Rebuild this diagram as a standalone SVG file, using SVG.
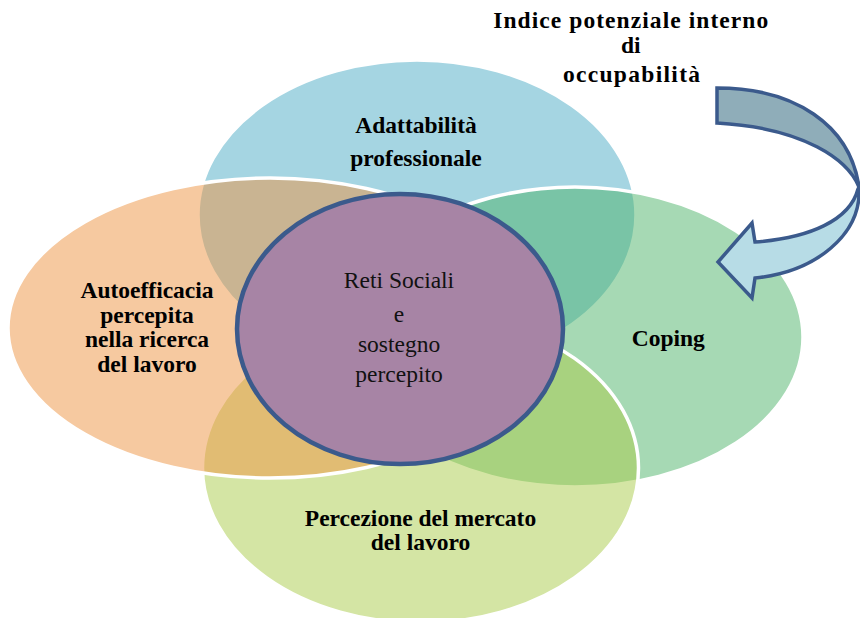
<svg xmlns="http://www.w3.org/2000/svg" width="860" height="618" viewBox="0 0 860 618">
<style>
.circ{stroke:#ffffff;stroke-width:3.5;fill-opacity:0.5}
text{font-family:'Liberation Serif','DejaVu Serif',serif;text-anchor:middle}
.lbl{font-weight:bold;font-size:23.5px;fill:#000}
.ttl{font-weight:bold;font-size:23.5px;fill:#000}
.ctr{font-weight:normal;font-size:23.5px;fill:#111}
.arr{stroke:#3B5A8C;stroke-width:3.5;stroke-linejoin:miter}
</style>
<rect width="860" height="618" fill="#ffffff"/>
<g id="adattabilita">
<ellipse class="circ" cx="417" cy="215" rx="219" ry="155" fill="#4BACC6"/>
</g>
<g id="coping">
<ellipse class="circ" cx="575" cy="337" rx="228" ry="150" fill="#4EB469"/>
</g>
<g id="percezione">
<ellipse class="circ" cx="420.5" cy="468" rx="218" ry="155" fill="#AACB4A"/>
</g>
<g id="autoefficacia">
<ellipse class="circ" cx="270" cy="328" rx="262" ry="150" fill="#ED9442"/>
</g>
<g id="reti-sociali">
<ellipse cx="400" cy="329" rx="163" ry="135" fill="#A784A5" stroke="#3B5A8C" stroke-width="4.5"/>
</g>
<g id="labels">
<text class="lbl" x="416" y="133.3">Adattabilità</text>
<text class="lbl" x="416" y="165.7">professionale</text>
<text class="lbl" x="147" y="298.3">Autoefficacia</text>
<text class="lbl" x="147" y="322.7">percepita</text>
<text class="lbl" x="147" y="347.3">nella ricerca</text>
<text class="lbl" x="147" y="371.7">del lavoro</text>
<text class="lbl" x="668.3" y="346">Coping</text>
<text class="lbl" x="420.5" y="526">Percezione del mercato</text>
<text class="lbl" x="420.5" y="550">del lavoro</text>
<text class="ctr" x="399" y="288.3">Reti Sociali</text>
<text class="ctr" x="399" y="321.7">e</text>
<text class="ctr" x="399" y="351.7">sostegno</text>
<text class="ctr" x="399" y="381.7">percepito</text>
</g>
<g id="indice">
<text class="ttl" x="630.7" y="28.3" textLength="275" lengthAdjust="spacing">Indice potenziale interno</text>
<text class="ttl" x="630.7" y="53.3">di</text>
<text class="ttl" x="631.5" y="81.7" textLength="137" lengthAdjust="spacing">occupabilità</text>
</g>
<g id="connectors">
<path class="arr" fill="#8FADB9" d="M717,88 C795,88 850,125 859,187 C848,160 805,128 717,123 Z"/>
<path class="arr" fill="#B7DCE6" d="M858,189 C850,220 810,238 755,242 L752,223 L718,262 L752,298 L755,278 C815,272 862,235 859,187 Z"/>
</g>
</svg>
